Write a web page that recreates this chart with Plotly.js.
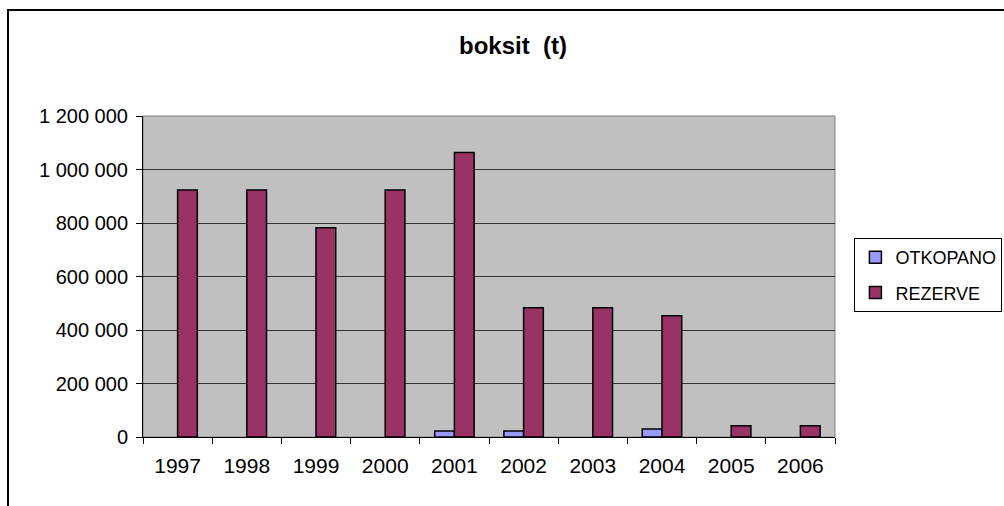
<!DOCTYPE html>
<html>
<head>
<meta charset="utf-8">
<script src="https://cdn.plot.ly/plotly-3.0.1.min.js"></script>
<style>
html,body{margin:0;padding:0;background:#fff;overflow:hidden;}
#frame{position:absolute;left:7px;top:9px;width:1100px;height:600px;border:2px solid #000;box-sizing:border-box;}
#chart{position:absolute;left:0;top:0;width:1004px;height:506px;}
</style>
</head>
<body>
<div id="frame"></div>
<div id="chart"></div>
<script>
const years = ['1997','1998','1999','2000','2001','2002','2003','2004','2005','2006'];
const otkopano = [null, null, null, null, 22000, 22000, null, 30000, null, null];
const rezerve = [923000, 923000, 782000, 923000, 1064000, 483000, 483000, 453000, 42000, 42000];
const yTicks = [0, 200000, 400000, 600000, 800000, 1000000, 1200000];
const yTickText = ['0', '200 000', '400 000', '600 000', '800 000', '1 000 000', '1 200 000'];

const fam = 'Liberation Sans, Arial, sans-serif';
const xfont = {family: fam, size: 21, color: '#000'};
const yfont = {family: fam, size: 20, color: '#000'};

const traces = [
  {type: 'bar', name: 'OTKOPANO', x: years, y: otkopano, legendgroup: 'a',
   marker: {color: '#9999FF', line: {color: '#000', width: 1.5}}},
  {type: 'bar', name: 'REZERVE', x: years, y: rezerve, legendgroup: 'b',
   marker: {color: '#993366', line: {color: '#000', width: 1.5}}}
];

const layout = {
  width: 1004, height: 506,
  margin: {l: 143, r: 169, t: 116, b: 69},
  paper_bgcolor: 'rgba(0,0,0,0)',
  plot_bgcolor: '#C0C0C0',
  font: {family: fam, size: 20, color: '#000'},
  barmode: 'group', bargap: 0.43, bargroupgap: 0,
  title: {text: '<b>boksit  (t)</b>', x: 0.511, xanchor: 'center', y: 0.91, yanchor: 'middle',
          font: {family: fam, size: 24, color: '#000'}},
  xaxis: {type: 'category', tickson: 'boundaries', ticks: 'outside', ticklen: 6, tickcolor: '#000',
          showline: true, linecolor: '#000', linewidth: 1, showgrid: false, ticklabelstandoff: 10,
          tickfont: xfont, fixedrange: true, automargin: false},
  yaxis: {range: [0, 1200000], tickvals: yTicks, ticktext: yTickText, ticks: 'outside', ticklen: 6,
          tickcolor: '#000', showline: true, linecolor: '#000', linewidth: 1, ticklabelstandoff: 4,
          showgrid: true, gridcolor: '#333', gridwidth: 1, zeroline: false, tickfont: yfont, fixedrange: true,
          automargin: false},
  legend: {xref: 'container', yref: 'container', x: 0.851, xanchor: 'left', y: 0.5296, yanchor: 'top',
           bordercolor: '#000', borderwidth: 1, itemwidth: 30,
           bgcolor: '#fff', font: {family: fam, size: 18, color: '#000'}, traceorder: 'grouped', tracegroupgap: 9},
  shapes: [{type: 'rect', xref: 'paper', yref: 'paper', x0: 0, x1: 1, y0: 0, y1: 1,
            line: {color: '#808080', width: 1}, fillcolor: 'rgba(0,0,0,0)', layer: 'below'}],
  showlegend: true
};

Plotly.newPlot('chart', traces, layout, {displayModeBar: false, staticPlot: true});
</script>
</body>
</html>
